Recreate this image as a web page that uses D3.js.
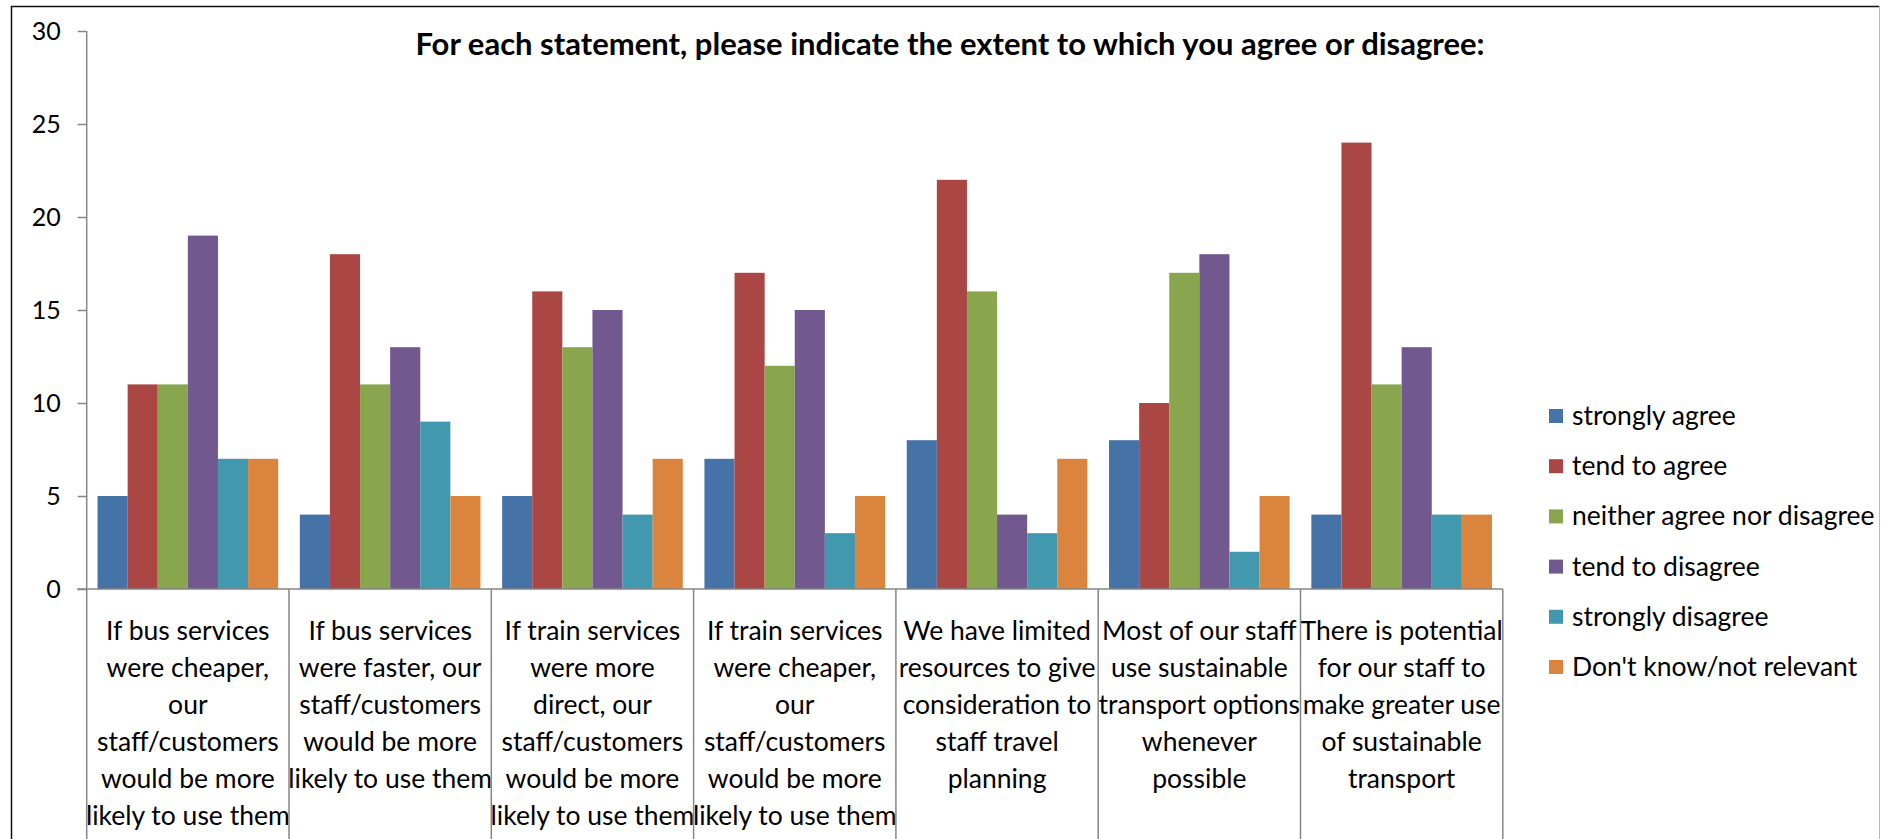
<!DOCTYPE html>
<html>
<head>
<meta charset="utf-8">
<script src="https://cdn.jsdelivr.net/npm/d3@7"></script>
<style>
  body { margin: 0; background: #fff; }
  svg text { font-family: Lato, "Open Sans", sans-serif; fill: #000; }
</style>
</head>
<body>
<div class="survey-chart"></div>
<script>
// Statements (x categories), one label line per array entry.
var statements = [
  ["If bus services", "were cheaper,", "our", "staff/customers", "would be more", "likely to use them"],
  ["If bus services", "were faster, our", "staff/customers", "would be more", "likely to use them"],
  ["If train services", "were more", "direct, our", "staff/customers", "would be more", "likely to use them"],
  ["If train services", "were cheaper,", "our", "staff/customers", "would be more", "likely to use them"],
  ["We have limited", "resources to give", "consideration to", "staff travel", "planning"],
  ["Most of our staff", "use sustainable", "transport options", "whenever", "possible"],
  ["There is potential", "for our staff to", "make greater use", "of sustainable", "transport"]
];

var answers = ["strongly agree", "tend to agree", "neither agree nor disagree",
               "tend to disagree", "strongly disagree", "Don't know/not relevant"];

// Counts per answer, one value per statement.
var stronglyAgree   = [5, 4, 5, 7, 8, 8, 4];
var tendToAgree     = [11, 18, 16, 17, 22, 10, 24];
var neither         = [11, 11, 13, 12, 16, 17, 11];
var tendToDisagree  = [19, 13, 15, 15, 4, 18, 13];
var stronglyDisagree = [7, 9, 4, 3, 3, 2, 4];
var dontKnow        = [7, 5, 7, 5, 7, 5, 4];

var yTicks = [0, 5, 10, 15, 20, 25, 30];

var colors = ["#4572A7", "#AA4643", "#89A54E", "#71588F", "#4198AF", "#DB843D"];

var title = "For each statement, please indicate the extent to which you agree or disagree:";

drawGraph();

// Turn the per-answer arrays into one row per statement.
function parseData() {
  var series = [stronglyAgree, tendToAgree, neither, tendToDisagree, stronglyDisagree, dontKnow];
  return statements.map(function(s, i) {
    return {
      key: i,
      lines: s,
      values: answers.map(function(a, j) {
        return {answer: a, count: series[j][i]};
      })
    };
  });
}

function drawGraph() {
  var width = 1885, height = 839;
  var dataGraph = parseData();

  var svg = d3.select('.survey-chart')
              .append('svg')
              .attr('width', width)
              .attr('height', height);

  svg.append('rect')
     .attr('width', width)
     .attr('height', height)
     .attr('fill', '#fff');

  // outer frame (left/top dark, right light)
  svg.append('path')
     .attr('d', 'M11.5,839V6.5H1879')
     .attr('fill', 'none')
     .attr('stroke', '#111')
     .attr('stroke-width', 1.5);
  svg.append('line')
     .attr('x1', 1879.5).attr('x2', 1879.5)
     .attr('y1', 6).attr('y2', 839)
     .attr('stroke', '#bbb');

  // statement --> band across the plot
  var x0 = d3.scaleBand()
             .domain(dataGraph.map(function(d) { return d.key; }))
             .range([86.7, 1502.8]);

  // answer --> bar inside a band
  var x1 = d3.scaleBand()
             .domain(answers)
             .range([0, x0.bandwidth()])
             .paddingOuter(0.36);

  var y = d3.scaleLinear()
            .domain([0, 30])
            .range([589, 31]);

  var color = d3.scaleOrdinal()
                .domain(answers)
                .range(colors);

  // bars
  var groups = svg.selectAll('.group')
                  .data(dataGraph)
                  .enter()
                  .append('g')
                  .attr('transform', function(d) { return 'translate(' + x0(d.key) + ',0)'; });

  groups.selectAll('rect')
        .data(function(d) { return d.values; })
        .enter()
        .append('rect')
        .attr('x', function(d) { return x1(d.answer); })
        .attr('width', x1.bandwidth())
        .attr('y', function(d) { return y(d.count); })
        .attr('height', function(d) { return y(0) - y(d.count); })
        .attr('fill', function(d) { return color(d.answer); });

  // y axis
  var yAxis = d3.axisLeft(y)
                .tickValues(yTicks)
                .tickSize(9)
                .tickPadding(17)
                .tickSizeOuter(0);

  var gy = svg.append('g')
              .attr('transform', 'translate(86.7,0)')
              .call(yAxis);
  gy.select('.domain').remove();
  gy.selectAll('.tick line').attr('stroke', '#868686').attr('stroke-width', 1.5);
  gy.selectAll('.tick text')
    .attr('font-size', 25)
    .attr('font-family', 'Lato')
    .attr('fill', '#000');

  svg.append('line')
     .attr('x1', 86.7).attr('x2', 86.7)
     .attr('y1', y(30)).attr('y2', height)
     .attr('stroke', '#868686').attr('stroke-width', 1.5);

  // x axis line and separators between statements
  svg.append('line')
     .attr('x1', 77).attr('x2', x0.range()[1])
     .attr('y1', y(0)).attr('y2', y(0))
     .attr('stroke', '#868686').attr('stroke-width', 1.5);

  var edges = dataGraph.map(function(d) { return x0(d.key) + x0.bandwidth(); });
  svg.selectAll('.sep')
     .data(edges)
     .enter()
     .append('line')
     .attr('x1', function(d) { return d; })
     .attr('x2', function(d) { return d; })
     .attr('y1', y(0))
     .attr('y2', height)
     .attr('stroke', '#868686')
     .attr('stroke-width', 1.5);

  // statement labels
  groups.append('text')
        .attr('text-anchor', 'middle')
        .attr('font-size', 26.5)
        .selectAll('tspan')
        .data(function(d) { return d.lines; })
        .enter()
        .append('tspan')
        .attr('x', x0.bandwidth() / 2)
        .attr('y', function(d, i) { return 640 + i * 37; })
        .text(function(d) { return d; });

  // title
  svg.append('text')
     .attr('x', 950)
     .attr('y', 55)
     .attr('text-anchor', 'middle')
     .attr('font-size', 31)
     .attr('font-weight', 'bold')
     .text(title);

  // legend
  var legend = svg.selectAll('.legend')
                  .data(answers)
                  .enter()
                  .append('g')
                  .attr('transform', function(d, i) { return 'translate(1549,' + (416 + i * 50.2) + ')'; });

  legend.append('rect')
        .attr('y', -7)
        .attr('width', 14)
        .attr('height', 14)
        .attr('fill', function(d) { return color(d); });

  legend.append('text')
        .attr('x', 23)
        .attr('y', 9)
        .attr('font-size', 26.5)
        .text(function(d) { return d; });
}
</script>
</body>
</html>
